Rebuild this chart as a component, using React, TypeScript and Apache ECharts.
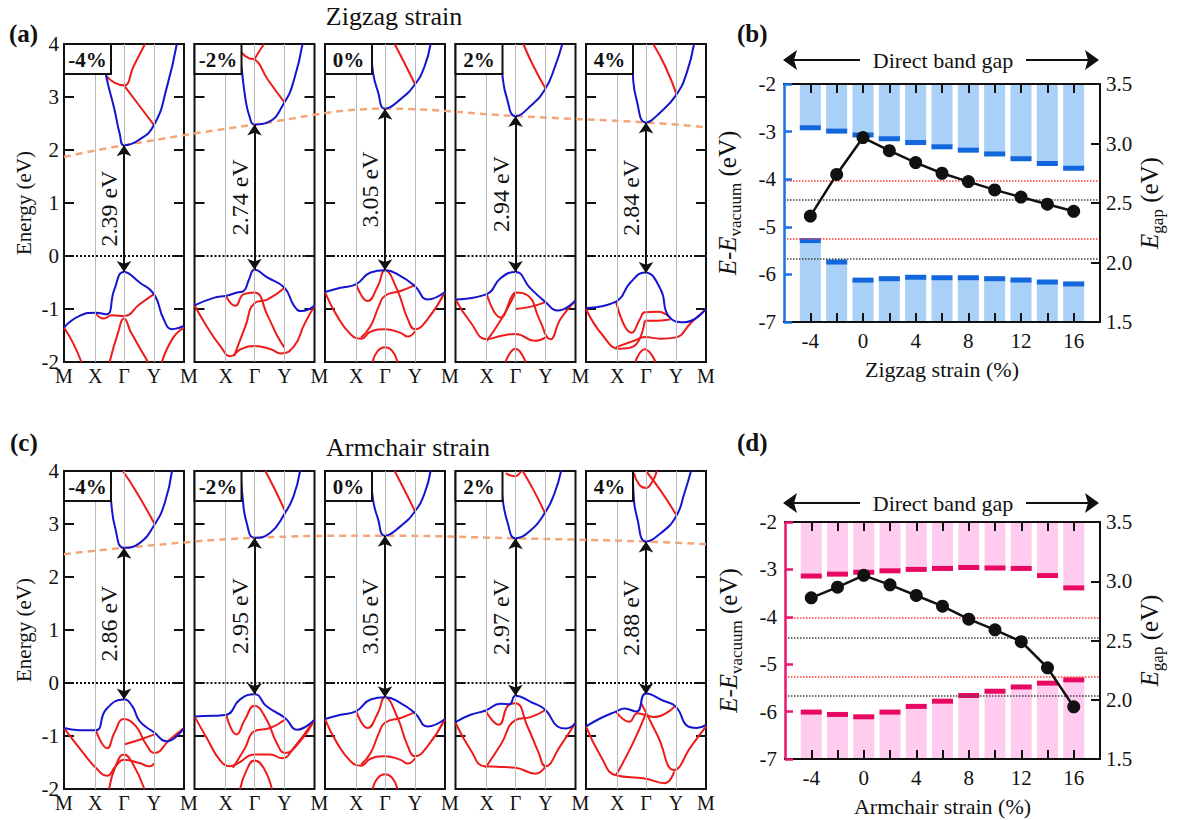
import React, { useEffect, useRef } from 'react';
import * as echarts from 'echarts';

const FONT = 'Liberation Serif, serif';
const INK = '#111111';
const BLUE = '#1515cf';
const RED = '#ee1b1b';

// ---------- band-structure panels (k along M-X-Γ-Y-M scaled 0..1, energy in eV) ----------
const KPOS = [0.26, 0.5, 0.75];
const KLAB = ['X', 'Γ', 'Y'];
const strainFrames = ['-4%', '-2%', '0%', '2%', '4%'];

const zzFrameGap = [2.39, 2.74, 3.05, 2.94, 2.84];
const zzFrameCbm = [2.09, 2.48, 2.78, 2.64, 2.52];
const zzOrangeEnds = [1.87, 2.43];
const acFrameGap = [2.86, 2.95, 3.05, 2.97, 2.88];
const acFrameCbm = [2.55, 2.74, 2.78, 2.73, 2.67];
const acOrangeEnds = [2.43, 2.62];

const zzM4Blue = [
  [[0.31, 4.0], [0.35, 3.41], [0.42, 2.77], [0.465, 2.3], [0.5, 2.09], [0.61, 2.17], [0.75, 2.47], [0.86, 3.21], [0.94, 4.0]],
  [[0, -1.35], [0.13, -1.13], [0.265, -1.07], [0.355, -1.1], [0.42, -0.63], [0.5, -0.3], [0.63, -0.5], [0.75, -0.72], [0.83, -1.19], [0.9, -1.38], [1, -1.32]],
];
const zzM4Red = [
  [[0.35, 3.41], [0.42, 3.27], [0.5, 3.22], [0.58, 3.58], [0.675, 4.0]],
  [[0.5, 3.22], [0.63, 2.83], [0.75, 2.47]],
  [[0.265, -1.08], [0.33, -1.18], [0.4, -1.12], [0.5, -1.13], [0.63, -0.91], [0.75, -0.72]],
  [[0, -1.35], [0.075, -1.64], [0.145, -2.0]],
  [[0.38, -2.0], [0.45, -1.45], [0.5, -1.18], [0.56, -1.45], [0.7, -2.0]],
  [[0.815, -2.0], [0.91, -1.54], [1, -1.35]],
];

const zzM2Blue = [
  [[0.36, 4.0], [0.39, 3.58], [0.425, 2.96], [0.46, 2.62], [0.5, 2.48], [0.61, 2.52], [0.75, 2.9], [0.83, 3.33], [0.9, 4.0]],
  [[0, -0.93], [0.16, -0.79], [0.265, -0.75], [0.355, -0.69], [0.41, -0.66], [0.455, -0.44], [0.5, -0.26], [0.61, -0.41], [0.75, -0.6], [0.83, -0.94], [0.89, -1.04], [1, -0.94]],
];
const zzM2Red = [
  [[0.39, 3.84], [0.455, 3.73], [0.5, 3.71], [0.61, 3.33], [0.75, 2.9]],
  [[0.5, 3.71], [0.55, 3.9], [0.58, 4.0]],
  [[0.265, -0.77], [0.34, -0.94], [0.41, -0.72], [0.5, -0.69], [0.61, -1.13], [0.69, -1.51], [0.75, -1.73]],
  [[0.33, -1.89], [0.425, -1.32], [0.5, -0.89], [0.61, -0.82], [0.75, -0.6]],
  [[0, -0.93], [0.1, -1.32], [0.215, -1.7], [0.3, -1.89], [0.385, -1.76], [0.5, -1.7], [0.635, -1.76], [0.72, -1.84], [0.83, -1.7], [0.915, -1.29], [1, -0.94]],
];

const zz0Blue = [
  [[0.38, 4.0], [0.4, 3.46], [0.44, 3.11], [0.5, 2.78], [0.63, 2.96], [0.75, 3.24], [0.83, 3.58], [0.88, 4.0]],
  [[0, -0.68], [0.13, -0.6], [0.26, -0.53], [0.38, -0.31], [0.5, -0.27], [0.63, -0.38], [0.75, -0.57], [0.855, -0.82], [1, -0.68]],
];
const zz0Red = [
  [[0.58, 4.0], [0.66, 3.65], [0.75, 3.24]],
  [[0.26, -0.53], [0.355, -0.85], [0.44, -0.57], [0.5, -0.27], [0.6, -0.63], [0.69, -1.19], [0.75, -1.38], [0.855, -1.19], [1, -0.68]],
  [[0.3, -1.54], [0.38, -1.32], [0.45, -0.94], [0.5, -0.75], [0.63, -0.66], [0.75, -0.55]],
  [[0, -0.68], [0.1, -1.13], [0.215, -1.48], [0.3, -1.56], [0.38, -1.43], [0.5, -1.38], [0.63, -1.45], [0.69, -1.52], [0.75, -1.42]],
  [[0.395, -2.0], [0.44, -1.79], [0.5, -1.72], [0.56, -1.79], [0.605, -2.0]],
];

const zzP2Blue = [
  [[0.375, 4.0], [0.39, 3.43], [0.43, 2.96], [0.5, 2.64], [0.625, 2.83], [0.75, 3.16], [0.83, 3.58], [0.89, 4.0]],
  [[0, -0.82], [0.26, -0.72], [0.375, -0.42], [0.5, -0.3], [0.62, -0.6], [0.75, -0.87], [0.85, -1.03], [1, -0.84]],
];
const zzP2Red = [
  [[0.565, 4.0], [0.65, 3.58], [0.75, 3.16]],
  [[0.26, -0.72], [0.375, -1.16], [0.47, -0.76], [0.5, -0.69], [0.6, -0.74], [0.7, -1.2], [0.79, -1.57], [0.875, -1.19], [1, -0.84]],
  [[0.5, -1.0], [0.62, -0.96], [0.75, -0.87]],
  [[0.26, -1.6], [0.38, -1.2], [0.5, -0.69]],
  [[0, -0.82], [0.125, -1.25], [0.26, -1.57], [0.375, -1.51], [0.5, -1.47], [0.66, -1.6], [0.76, -1.52]],
  [[0.415, -2.0], [0.5, -1.75], [0.585, -2.0]],
];

const zzP4Blue = [
  [[0.38, 4.0], [0.39, 3.43], [0.42, 2.96], [0.5, 2.52], [0.615, 2.7], [0.755, 3.05], [0.84, 3.46], [0.9, 4.0]],
  [[0, -0.98], [0.25, -0.86], [0.37, -0.5], [0.49, -0.31], [0.62, -0.62], [0.69, -1.14], [0.82, -1.25], [1, -1.0]],
];
const zzP4Red = [
  [[0.56, 4.0], [0.66, 3.58], [0.755, 3.05]],
  [[0.25, -0.86], [0.38, -1.45], [0.45, -1.19], [0.49, -1.06], [0.6, -1.05], [0.69, -1.14]],
  [[0.49, -1.22], [0.6, -1.22], [0.7, -1.2]],
  [[0.25, -1.72], [0.4, -1.6], [0.49, -1.53], [0.62, -1.56], [0.74, -1.54], [0.88, -1.25], [1, -1.0]],
  [[0, -1.0], [0.14, -1.5], [0.28, -1.75], [0.4, -1.7], [0.49, -1.22]],
  [[0.41, -2.0], [0.49, -1.76], [0.58, -2.0]],
];

const acM4Blue = [
  [[0.375, 4.0], [0.39, 3.49], [0.43, 2.89], [0.5, 2.55], [0.63, 2.64], [0.755, 2.99], [0.84, 3.4], [0.9, 4.0]],
  [[0, -0.85], [0.125, -0.89], [0.265, -0.89], [0.35, -0.5], [0.5, -0.31], [0.57, -0.44], [0.63, -0.72], [0.755, -0.94], [0.85, -1.1], [1, -0.85]],
];
const acM4Red = [
  [[0.49, 4.0], [0.6, 3.62], [0.755, 3.0]],
  [[0.265, -0.89], [0.36, -1.23], [0.42, -0.94], [0.5, -0.68], [0.6, -0.82], [0.685, -1.16], [0.755, -1.32], [0.88, -1.07], [1, -0.85]],
  [[0.5, -1.16], [0.63, -1.07], [0.755, -0.97]],
  [[0, -0.85], [0.14, -1.26], [0.265, -1.6], [0.36, -1.75], [0.43, -1.57], [0.5, -1.45], [0.63, -1.51], [0.71, -1.57], [0.755, -1.51]],
  [[0.375, -2.0], [0.43, -1.57], [0.5, -1.35], [0.57, -1.51], [0.67, -2.0]],
];

const acM2Blue = [
  [[0.385, 4.0], [0.4, 3.52], [0.435, 3.02], [0.5, 2.74], [0.63, 2.83], [0.755, 3.21], [0.825, 3.52], [0.88, 4.0]],
  [[0, -0.63], [0.155, -0.62], [0.265, -0.6], [0.38, -0.31], [0.5, -0.21], [0.6, -0.44], [0.755, -0.66], [0.855, -0.88], [1, -0.69]],
];
const acM2Red = [
  [[0.59, 4.0], [0.67, 3.65], [0.755, 3.24]],
  [[0.265, -0.6], [0.35, -0.97], [0.42, -0.69], [0.5, -0.43], [0.6, -0.69], [0.685, -1.13], [0.755, -1.32], [0.88, -1.1], [1, -0.69]],
  [[0.32, -1.6], [0.42, -1.23], [0.5, -0.91], [0.63, -0.85], [0.755, -0.69]],
  [[0, -0.63], [0.11, -1.07], [0.21, -1.45], [0.295, -1.57], [0.365, -1.51], [0.5, -1.35], [0.63, -1.35], [0.73, -1.42], [0.825, -1.23], [1, -0.69]],
  [[0.38, -2.0], [0.435, -1.64], [0.5, -1.46], [0.575, -1.6], [0.645, -2.0]],
];

const acP2Blue = [
  [[0.375, 4.0], [0.39, 3.52], [0.435, 3.02], [0.5, 2.73], [0.615, 2.86], [0.745, 3.21], [0.825, 3.58], [0.88, 4.0]],
  [[0, -0.74], [0.125, -0.6], [0.25, -0.52], [0.375, -0.39], [0.45, -0.4], [0.5, -0.24], [0.63, -0.36], [0.75, -0.51], [0.85, -0.82], [0.92, -0.86], [1, -0.75]],
];
const acP2Red = [
  [[0.42, 3.96], [0.49, 3.9], [0.545, 3.99]],
  [[0.56, 4.0], [0.655, 3.62], [0.745, 3.21]],
  [[0.25, -0.52], [0.36, -0.79], [0.44, -0.42], [0.5, -0.38], [0.6, -0.82], [0.69, -1.3], [0.75, -1.57], [0.87, -1.2], [1, -0.75]],
  [[0.25, -1.6], [0.38, -1.15], [0.5, -0.7], [0.63, -0.64], [0.75, -0.51]],
  [[0, -0.75], [0.125, -1.26], [0.24, -1.57], [0.35, -1.58], [0.5, -1.6], [0.67, -1.71], [0.75, -1.57]],
];

const acP4Blue = [
  [[0.39, 4.0], [0.395, 3.62], [0.43, 3.08], [0.5, 2.67], [0.625, 2.83], [0.75, 3.14], [0.82, 3.58], [0.875, 4.0]],
  [[0, -0.82], [0.125, -0.66], [0.25, -0.54], [0.32, -0.48], [0.42, -0.54], [0.5, -0.2], [0.64, -0.33], [0.75, -0.45], [0.85, -0.82], [0.92, -0.85], [1, -0.79]],
];
const acP4Red = [
  [[0.4, 3.96], [0.445, 3.74], [0.5, 3.68], [0.555, 3.81], [0.59, 4.0]],
  [[0.5, 4.0], [0.625, 3.62], [0.75, 3.18]],
  [[0.25, -0.54], [0.36, -0.73], [0.43, -0.57], [0.49, -0.6], [0.57, -0.64], [0.735, -0.45]],
  [[0.25, -1.74], [0.39, -1.14], [0.5, -0.57]],
  [[0.46, -0.38], [0.6, -1.01], [0.735, -1.64], [0.875, -1.2], [1, -0.82]],
  [[0, -0.82], [0.125, -1.39], [0.25, -1.74], [0.49, -1.8], [0.655, -1.89], [0.735, -1.67]],
];

// ---------- band-edge panels ----------
const STRAINS = [-4, -2, 0, 2, 4, 6, 8, 10, 12, 14, 16];
const STRAIN_LABELS = [-4, 0, 4, 8, 12, 16];
const zzCBM = [-2.92, -2.99, -3.07, -3.15, -3.23, -3.32, -3.39, -3.47, -3.57, -3.67, -3.77];
const zzVBM = [-5.29, -5.74, -6.12, -6.09, -6.06, -6.07, -6.07, -6.09, -6.12, -6.16, -6.2];
const zzGap = [2.39, 2.74, 3.05, 2.94, 2.84, 2.75, 2.68, 2.61, 2.55, 2.49, 2.43];
const acCBM = [-3.14, -3.1, -3.06, -3.03, -3.0, -2.98, -2.96, -2.97, -2.98, -3.13, -3.39];
const acVBM = [-6.01, -6.06, -6.11, -6.01, -5.89, -5.78, -5.66, -5.57, -5.48, -5.4, -5.33];
const acGap = [2.86, 2.95, 3.05, 2.97, 2.88, 2.79, 2.68, 2.59, 2.49, 2.27, 1.94];
const redoxPH7 = [-4.03, -5.26];
const redoxPH0 = [-4.44, -5.67];

// ---------- layout ----------
const FRAME_LEFT0 = 64;
const FRAME_W = 120;
const FRAME_STEP = 130.5;
const FRAME_H = 318;

function buildOption() {
  const grid: any[] = [];
  const xAxis: any[] = [];
  const yAxis: any[] = [];
  const series: any[] = [];
  const graphic: any[] = [];

  const zzBands = [
    { blue: zzM4Blue, red: zzM4Red }, { blue: zzM2Blue, red: zzM2Red }, { blue: zz0Blue, red: zz0Red },
    { blue: zzP2Blue, red: zzP2Red }, { blue: zzP4Blue, red: zzP4Red },
  ];
  const acBands = [
    { blue: acM4Blue, red: acM4Red }, { blue: acM2Blue, red: acM2Red }, { blue: zz0Blue, red: zz0Red },
    { blue: acP2Blue, red: acP2Red }, { blue: acP4Blue, red: acP4Red },
  ];
  const rows = [
    { top: 44, bands: zzBands, gaps: zzFrameGap, cbm: zzFrameCbm, ends: zzOrangeEnds },
    { top: 471, bands: acBands, gaps: acFrameGap, cbm: acFrameCbm, ends: acOrangeEnds },
  ];

  rows.forEach((row) => {
    const span = 4 * FRAME_STEP + FRAME_W;
    const spanU = span / FRAME_W;
    const stepU = FRAME_STEP / FRAME_W;
    const gOv = grid.length;
    grid.push({ left: FRAME_LEFT0, top: row.top, width: span, height: FRAME_H });
    xAxis.push({ gridIndex: gOv, type: 'value', min: 0, max: spanU, show: false });
    yAxis.push({ gridIndex: gOv, type: 'value', min: -2, max: 4, show: false });
    const orange = [[0, row.ends[0]], ...row.cbm.map((c, i) => [i * stepU + 0.5, c]), [spanU, row.ends[1]]];
    series.push({
      type: 'line', xAxisIndex: xAxis.length - 1, yAxisIndex: yAxis.length - 1, data: orange,
      smooth: 0.4, symbol: 'none', silent: true, z: 1,
      lineStyle: { color: '#f5a678', width: 2.5, type: [7, 5] },
    });

    row.bands.forEach((b, i) => {
      const left = FRAME_LEFT0 + i * FRAME_STEP;
      const g = grid.length;
      const isFirst = i === 0;
      const isLast = i === row.bands.length - 1;
      grid.push({ left, top: row.top, width: FRAME_W, height: FRAME_H, show: true, borderColor: INK, borderWidth: 2, backgroundColor: 'transparent' });
      const xi = xAxis.length;
      const vals = isFirst ? [0, ...KPOS, 1] : [...KPOS, 1];
      xAxis.push({
        gridIndex: g, type: 'value', min: 0, max: 1,
        axisLine: { show: false, onZero: false }, axisTick: { show: false }, splitLine: { show: false },
        axisLabel: {
          customValues: vals, showMinLabel: true, showMaxLabel: true, margin: 4,
          color: INK, fontFamily: FONT, fontSize: 20,
          formatter: (v: number) => {
            if (v > 0.99) return isLast ? 'M' : '{m|M}';
            if (v < 0.01) return 'M';
            const k = KPOS.findIndex((p) => Math.abs(p - v) < 1e-6);
            return k >= 0 ? KLAB[k] : '';
          },
          rich: { m: { padding: [0, 0, 0, 10], fontSize: 20, fontFamily: FONT, color: INK } },
        },
      });
      const yl = yAxis.length;
      yAxis.push({
        gridIndex: g, type: 'value', min: -2, max: 4, interval: 1, position: 'left',
        axisLine: { show: false, onZero: false }, splitLine: { show: false },
        axisTick: { inside: true, length: 10, lineStyle: { color: INK, width: 2 } },
        axisLabel: { show: isFirst, margin: 5, fontSize: 21, color: INK, fontFamily: FONT },
        name: isFirst ? 'Energy (eV)' : '', nameLocation: 'middle', nameGap: 30,
        nameTextStyle: { fontSize: 21, color: INK, fontFamily: FONT },
      });
      yAxis.push({
        gridIndex: g, type: 'value', min: -2, max: 4, interval: 1, position: 'right',
        axisLine: { show: false, onZero: false }, splitLine: { show: false },
        axisTick: { inside: true, length: 10, lineStyle: { color: INK, width: 2 } },
        axisLabel: { show: false },
      });
      series.push({
        type: 'line', xAxisIndex: xi, yAxisIndex: yl, data: [], silent: true, z: 1,
        markLine: {
          silent: true, symbol: ['none', 'none'], label: { show: false },
          data: [
            ...KPOS.map((p) => ({ xAxis: p, lineStyle: { color: '#b9b9b9', width: 1, type: 'solid' } })),
            { yAxis: 0, lineStyle: { color: INK, width: 2, type: 'dotted' } },
          ],
        },
      });
      const addSegs = (segs: number[][][], color: string) => {
        segs.forEach((seg) => {
          series.push({
            type: 'line', xAxisIndex: xi, yAxisIndex: yl, data: seg, smooth: 0.5,
            symbol: 'none', silent: true, clip: true, z: 3, lineStyle: { color, width: 2 },
          });
        });
      };
      addSegs(b.red, RED);
      addSegs(b.blue, BLUE);
      const cbm = row.cbm[i];
      const gap = row.gaps[i];
      series.push({
        type: 'line', xAxisIndex: xi, yAxisIndex: yl, data: [], silent: true, z: 5,
        markLine: {
          silent: true, symbol: ['arrow', 'arrow'], symbolSize: 11,
          lineStyle: { color: INK, width: 2, type: 'solid' },
          label: {
            show: true, position: 'insideMiddleTop', formatter: gap.toFixed(2) + ' eV',
            fontSize: 24, fontFamily: FONT, color: INK, distance: 3,
          },
          data: [[{ coord: [0.5, cbm - gap] }, { coord: [0.5, cbm] }]],
        },
      });
      graphic.push({
        type: 'group', x: left, y: row.top, z: 100,
        children: [
          { type: 'rect', z: 100, shape: { x: 0, y: 0, width: 47, height: 30 }, style: { fill: '#fff', stroke: INK, lineWidth: 2 } },
          {
            type: 'text', z: 101, x: 23.5, y: 16,
            style: { text: strainFrames[i], font: `bold 21px ${FONT}`, fill: INK, align: 'center', verticalAlign: 'middle', textAlign: 'center', textVerticalAlign: 'middle' },
          },
        ],
      });
    });
  });

  // ---------- right panels ----------
  const panels = [
    { top: 84, left: 784, width: 316, height: 238, cbm: zzCBM, vbm: zzVBM, gap: zzGap, light: '#a9d1f7', dark: '#1267dc', axis: '#1b72e6', xname: 'Zigzag strain (%)', arrowY: 60 },
    { top: 522, left: 785, width: 315, height: 237, cbm: acCBM, vbm: acVBM, gap: acGap, light: '#ffccef', dark: '#e80a62', axis: '#e8166a', xname: 'Armchair strain (%)', arrowY: 503 },
  ];
  const nameRich = {
    i: { fontStyle: 'italic', fontSize: 25, lineHeight: 25, fontFamily: FONT, color: INK, verticalAlign: 'top' },
    n: { fontSize: 25, lineHeight: 25, fontFamily: FONT, color: INK, verticalAlign: 'top' },
    s: { fontSize: 17, lineHeight: 17, fontFamily: FONT, color: INK, verticalAlign: 'top', padding: [12, 0, 0, 0] },
  };
  panels.forEach((p) => {
    const g = grid.length;
    grid.push({ left: p.left, top: p.top, width: p.width, height: p.height });
    const xb = xAxis.length;
    const xCommon = {
      gridIndex: g, type: 'value', min: -6, max: 18, z: 10, splitLine: { show: false },
      axisTick: { customValues: STRAINS, inside: true, length: 9, lineStyle: { color: INK, width: 2 } },
    };
    xAxis.push({
      ...xCommon, position: 'bottom',
      axisLine: { onZero: false, lineStyle: { color: INK, width: 2 } },
      axisLabel: { customValues: STRAIN_LABELS, fontSize: 21, color: INK, fontFamily: FONT, margin: 8 },
      name: p.xname, nameLocation: 'middle', nameGap: 36, nameTextStyle: { fontSize: 22, color: INK, fontFamily: FONT },
    });
    xAxis.push({
      ...xCommon, position: 'top',
      axisLine: { onZero: false, lineStyle: { color: INK, width: 2 } },
      axisLabel: { show: false },
    });
    const yl = yAxis.length;
    yAxis.push({
      gridIndex: g, type: 'value', min: -7, max: -2, interval: 1, position: 'left', z: 10,
      axisLine: { onZero: false, lineStyle: { color: p.axis, width: 2.5 } },
      axisTick: { inside: true, length: 8, lineStyle: { color: p.axis, width: 2.5 } },
      axisLabel: { fontSize: 21, color: INK, fontFamily: FONT, margin: 8 },
      splitLine: { show: false },
      name: '{i|E}{n|-}{i|E}{s|vacuum}{n| (eV)}', nameLocation: 'middle', nameGap: 44,
      nameTextStyle: { fontSize: 25, color: INK, fontFamily: FONT, rich: nameRich },
    });
    const yr = yAxis.length;
    yAxis.push({
      gridIndex: g, type: 'value', min: 1.5, max: 3.5, interval: 0.5, position: 'right', z: 10,
      axisLine: { onZero: false, lineStyle: { color: INK, width: 2 } },
      axisTick: { inside: true, length: 9, lineStyle: { color: INK, width: 2 } },
      axisLabel: { fontSize: 21, color: INK, fontFamily: FONT, margin: 6, formatter: (v: number) => v.toFixed(1) },
      splitLine: { show: false },
      name: '{i|E}{s|gap}{n| (eV)}', nameLocation: 'middle', nameGap: 37,
      nameTextStyle: { fontSize: 25, color: INK, fontFamily: FONT, rich: nameRich },
    });
    const half = 0.8;
    series.push({
      type: 'custom', xAxisIndex: xb, yAxisIndex: yl, silent: true, z: 2, encode: { x: 0, y: 1 },
      data: STRAINS.map((s, i) => [s, p.cbm[i]]),
      renderItem: (_params: any, api: any) => {
        const x = api.value(0);
        const v = api.value(1);
        const a = api.coord([x - half, -2]);
        const b = api.coord([x + half, v]);
        return {
          type: 'group', children: [
            { type: 'rect', shape: { x: a[0], y: a[1], width: b[0] - a[0], height: b[1] - a[1] }, style: { fill: p.light } },
            { type: 'rect', shape: { x: a[0], y: b[1] - 2.5, width: b[0] - a[0], height: 5 }, style: { fill: p.dark } },
          ],
        };
      },
    });
    series.push({
      type: 'custom', xAxisIndex: xb, yAxisIndex: yl, silent: true, z: 2, encode: { x: 0, y: 1 },
      data: STRAINS.map((s, i) => [s, p.vbm[i]]),
      renderItem: (_params: any, api: any) => {
        const x = api.value(0);
        const v = api.value(1);
        const a = api.coord([x - half, v]);
        const b = api.coord([x + half, -7]);
        return {
          type: 'group', children: [
            { type: 'rect', shape: { x: a[0], y: a[1], width: b[0] - a[0], height: b[1] - a[1] }, style: { fill: p.light } },
            { type: 'rect', shape: { x: a[0], y: a[1] - 2.5, width: b[0] - a[0], height: 5 }, style: { fill: p.dark } },
          ],
        };
      },
    });
    series.push({
      type: 'line', xAxisIndex: xb, yAxisIndex: yl, data: [], silent: true, z: 4,
      markLine: {
        silent: true, symbol: ['none', 'none'], label: { show: false },
        data: [
          ...redoxPH7.map((v) => ({ yAxis: v, lineStyle: { color: '#ff3a3a', width: 1.5, type: 'dotted' } })),
          ...redoxPH0.map((v) => ({ yAxis: v, lineStyle: { color: '#444', width: 1.5, type: 'dotted' } })),
        ],
      },
    });
    series.push({
      type: 'line', xAxisIndex: xb, yAxisIndex: yr, data: STRAINS.map((s, i) => [s, p.gap[i]]),
      symbol: 'circle', symbolSize: 13, silent: true, z: 20,
      itemStyle: { color: INK }, lineStyle: { color: INK, width: 2.5 },
    });

    const y = p.arrowY;
    graphic.push(
      { type: 'line', shape: { x1: 792, y1: y, x2: 860, y2: y }, style: { stroke: INK, lineWidth: 2 } },
      { type: 'line', shape: { x1: 1026, y1: y, x2: 1090, y2: y }, style: { stroke: INK, lineWidth: 2 } },
      { type: 'polygon', shape: { points: [[783, y], [797, y - 10], [794, y], [797, y + 10]] }, style: { fill: INK } },
      { type: 'polygon', shape: { points: [[1099, y], [1085, y - 10], [1088, y], [1085, y + 10]] }, style: { fill: INK } },
      { type: 'text', x: 943, y, style: { text: 'Direct band gap', font: `22px ${FONT}`, fill: INK, align: 'center', verticalAlign: 'middle', textAlign: 'center', textVerticalAlign: 'middle' } },
    );
  });

  const txt = (text: string, x: number, y: number, font: string, align = 'left') => ({
    type: 'text', x, y,
    style: { text, font, fill: INK, align, verticalAlign: 'middle', textAlign: align, textVerticalAlign: 'middle' },
  });
  graphic.push(
    txt('(a)', 9, 33, `bold 25px ${FONT}`),
    txt('(b)', 737, 33, `bold 25px ${FONT}`),
    txt('(c)', 10, 442, `bold 25px ${FONT}`),
    txt('(d)', 737, 442, `bold 25px ${FONT}`),
    txt('Zigzag strain', 394, 16, `26px ${FONT}`, 'center'),
    txt('Armchair strain', 408, 447, `26px ${FONT}`, 'center'),
  );

  return {
    animation: false,
    backgroundColor: '#ffffff',
    textStyle: { fontFamily: FONT },
    grid, xAxis, yAxis, series, graphic,
  };
}

export default function App() {
  const ref = useRef<HTMLDivElement>(null);
  useEffect(() => {
    if (!ref.current) return;
    const chart = echarts.init(ref.current, null, { renderer: 'svg' });
    chart.setOption(buildOption() as any);
    return () => chart.dispose();
  }, []);
  return <div ref={ref} style={{ position: 'fixed', left: 0, top: 0, width: 1185, height: 820, background: '#fff' }} />;
}
